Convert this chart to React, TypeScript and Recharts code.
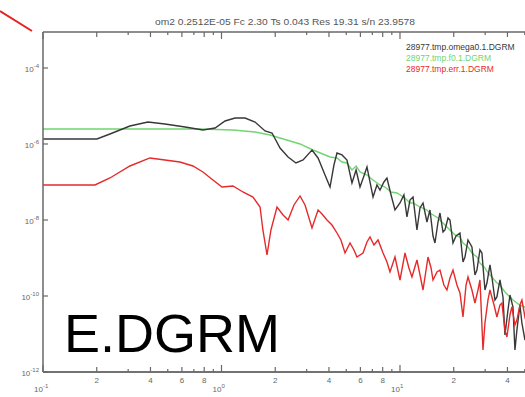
import { LineChart, Line, XAxis, YAxis, Legend, ReferenceLine } from 'recharts';

// log10(frequency) and log10(power) pairs
const omegaLogF = [
  -1.0, -0.698, -0.625, -0.513, -0.412, -0.317, -0.204, -0.104, -0.036, 0.02, 0.076, 0.132, 0.188, 0.244,
  0.283, 0.328, 0.373, 0.417, 0.457, 0.507, 0.541, 0.58, 0.608, 0.63, 0.647, 0.675, 0.703, 0.731, 0.754,
  0.776, 0.798, 0.815, 0.849, 0.871, 0.888, 0.91, 0.927, 0.95, 0.972, 1.0, 1.022, 1.039, 1.056, 1.073,
  1.095, 1.112, 1.129, 1.151, 1.168, 1.185, 1.196, 1.213, 1.224, 1.241, 1.252, 1.269, 1.28, 1.297, 1.314,
  1.336, 1.353, 1.364, 1.381, 1.403, 1.42, 1.431, 1.448, 1.459, 1.476, 1.487, 1.504, 1.515, 1.532, 1.543,
  1.56, 1.577, 1.588, 1.605, 1.616, 1.633, 1.644, 1.655, 1.672, 1.683, 1.7, 1.717,
];
const omegaLogP = [
  -5.868, -5.868, -5.737, -5.526, -5.421, -5.474, -5.553, -5.632, -5.579, -5.395, -5.316, -5.316, -5.421, -5.658,
  -5.711, -6.105, -6.342, -6.5, -6.421, -6.158, -6.368, -6.816, -7.132, -6.553, -6.237, -6.289, -6.421, -7.026, -6.684,
  -7.132, -6.842, -6.605, -7.395, -7.079, -7.211, -7.0, -6.895, -7.342, -7.737, -7.553, -7.342, -7.921, -7.474, -7.395,
  -8.263, -7.684, -7.553, -8.053, -7.737, -8.421, -8.605, -8.053, -7.816, -8.316, -8.263, -7.947, -8.0, -8.605, -8.421,
  -8.342, -9.105, -8.974, -8.526, -8.711, -9.447, -9.316, -8.789, -8.868, -9.842, -9.658, -9.184, -9.5, -10.105, -10.026,
  -9.579, -10.026, -11.026, -10.368, -9.974, -10.289, -11.421, -10.895, -10.237, -10.711, -11.158, -10.579,
];

const fitLogF = [
  -1.0, -0.569, -0.12, 0.064, 0.188, 0.272, 0.328, 0.44, 0.513, 0.608, 0.647, 0.675, 0.703, 0.731, 0.754,
  0.776, 0.815, 0.849, 0.888, 0.916, 0.95, 0.983, 1.028, 1.056, 1.073, 1.112, 1.151, 1.168, 1.213, 1.224,
  1.263, 1.308, 1.336, 1.353, 1.381, 1.403, 1.431, 1.448, 1.476, 1.493, 1.515, 1.543, 1.56, 1.588, 1.616,
  1.633, 1.655, 1.672, 1.7, 1.717,
];
const fitLogP = [
  -5.605, -5.605, -5.605, -5.632, -5.684, -5.763, -5.842, -6.0, -6.158, -6.342, -6.368, -6.474, -6.5, -6.684, -6.579,
  -6.737, -6.816, -6.947, -7.079, -7.132, -7.263, -7.289, -7.421, -7.553, -7.553, -7.658, -7.737, -7.816, -7.947, -8.0,
  -8.184, -8.395, -8.447, -8.605, -8.711, -8.868, -8.974, -9.132, -9.263, -9.395, -9.5, -9.658, -9.711, -9.895, -10.026,
  -10.105, -10.184, -10.237, -10.289, -10.421,
];

const errLogF = [
  -1.0, -0.709, -0.625, -0.513, -0.401, -0.317, -0.233, -0.16, -0.104, -0.048, 0.003, 0.064, 0.12, 0.176, 0.216,
  0.232, 0.255, 0.277, 0.311, 0.345, 0.373, 0.406, 0.44, 0.468, 0.507, 0.541, 0.563, 0.591, 0.619, 0.647,
  0.669, 0.692, 0.72, 0.742, 0.759, 0.793, 0.815, 0.832, 0.854, 0.877, 0.905, 0.927, 0.944, 0.972, 1.0,
  1.028, 1.05, 1.067, 1.095, 1.112, 1.129, 1.157, 1.174, 1.185, 1.207, 1.224, 1.246, 1.263, 1.28, 1.297,
  1.319, 1.336, 1.353, 1.37, 1.381, 1.403, 1.42, 1.437, 1.448, 1.465, 1.476, 1.493, 1.504, 1.527, 1.543,
  1.56, 1.571, 1.588, 1.599, 1.616, 1.627, 1.644, 1.655, 1.672, 1.683, 1.7, 1.717,
];
const errLogP = [
  -7.079, -7.079, -6.895, -6.579, -6.368, -6.421, -6.474, -6.579, -6.737, -6.947, -7.132, -7.105, -7.263, -7.395, -7.658,
  -8.263, -8.921, -8.263, -7.658, -7.868, -8.0, -7.605, -7.368, -7.605, -8.211, -7.737, -7.842, -8.0, -8.132, -8.342,
  -8.526, -8.868, -8.605, -8.789, -8.974, -8.868, -8.579, -8.447, -8.658, -8.526, -8.868, -9.105, -9.368, -8.974, -9.579,
  -8.868, -9.263, -9.5, -9.053, -9.447, -9.842, -8.974, -9.263, -9.579, -9.368, -9.316, -9.711, -9.842, -9.526, -9.316,
  -9.711, -9.921, -10.553, -9.711, -9.5, -9.842, -10.184, -9.842, -9.579, -11.421, -10.711, -10.105, -9.842, -10.237, -10.553,
  -10.237, -10.184, -10.895, -11.079, -10.5, -10.289, -10.763, -10.632, -10.237, -10.105, -10.553, -10.368,
];

const xTicks = [
  0.1, 0.2, 0.3, 0.4, 0.5, 0.6, 0.7, 0.8, 0.9, 1, 2, 3, 4, 5, 6, 7, 8, 9, 10, 20, 30, 40, 50,
];
const yTicks = [1e-12, 1e-10, 1e-8, 1e-6, 1e-4];

const TITLE = 'om2 0.2512E-05 Fc 2.30 Ts 0.043 Res 19.31 s/n 23.9578';
const BIG_LABEL = 'E.DGRM';

const series = [
  { key: 'omega', name: '28977.tmp.omega0.1.DGRM', color: '#383838', f: omegaLogF, p: omegaLogP },
  { key: 'fit', name: '28977.tmp.f0.1.DGRM', color: '#72d472', f: fitLogF, p: fitLogP },
  { key: 'err', name: '28977.tmp.err.1.DGRM', color: '#e62a2a', f: errLogF, p: errLogP },
];

const toRows = (lf: number[], lp: number[]) => lf.map((v, i) => ({ f: 10 ** v, p: 10 ** lp[i] }));

const X_DOMAIN = [0.1, 53.5];
const Y_DOMAIN = [1e-12, 8.85e-4];
const AXIS = 'dimgray';
const LABEL = '#666';
const AXIS_LINE = { stroke: AXIS, strokeWidth: 1.5 };

const CHART_W = 560;
const CHART_H = 397;
const MARGIN = { top: 32, right: 30, left: 0, bottom: 0 };
const X_AXIS_H = 25;
const PLOT_H = CHART_H - MARGIN.top - MARGIN.bottom - X_AXIS_H;

function decade(v: number) {
  return Math.floor(Math.log10(v) + 1e-9);
}

function BottomTick({ x, y, payload }: any) {
  const v = payload.value;
  const e = decade(v);
  const m = Math.round(v / 10 ** e);
  const major = m === 1;
  const labeled = major || m % 2 === 0;
  const len = major ? 7 : labeled ? 5 : 3;
  const top = y - PLOT_H;
  return (
    <g>
      <line x1={x} x2={x} y1={y} y2={y - len} stroke={AXIS} strokeWidth={1.2} />
      <line x1={x} x2={x} y1={top} y2={top + len} stroke={AXIS} strokeWidth={1.2} />
      {major ? (
        <text x={x - 9} y={y + 20} fontSize={8} fill={LABEL}>
          10<tspan dy={-4} fontSize={6}>{e}</tspan>
        </text>
      ) : labeled ? (
        <text x={x} y={y + 11} textAnchor="middle" fontSize={8} fill={LABEL}>{m}</text>
      ) : null}
    </g>
  );
}

function LeftTick({ x, y, payload }: any) {
  const e = Math.round(Math.log10(payload.value));
  return (
    <g>
      <line x1={x} x2={x + 5} y1={y} y2={y} stroke={AXIS} strokeWidth={1.2} />
      <text x={x - 4} y={y + 4} textAnchor="end" fontSize={8} fill={LABEL}>
        10<tspan dy={-4} fontSize={6}>{e}</tspan>
      </text>
    </g>
  );
}

function LegendBox() {
  return (
    <div style={{ fontSize: 8.5, lineHeight: '11px', whiteSpace: 'nowrap' }}>
      {series.map((s) => (
        <div key={s.key} style={{ color: s.color }}>{s.name}</div>
      ))}
    </div>
  );
}

export default function App() {
  const drawOrder = [series[1], series[0], series[2]];
  return (
    <div style={{ position: 'absolute', left: 0, top: 0, width: 525, height: 397, overflow: 'hidden' }}>
      <LineChart
        width={CHART_W}
        height={CHART_H}
        margin={MARGIN}
        style={{ fontFamily: '"Liberation Sans", Arial, sans-serif' }}
      >
        <XAxis
          xAxisId="bottom"
          dataKey="f"
          type="number"
          scale="log"
          domain={X_DOMAIN}
          allowDataOverflow
          ticks={xTicks}
          interval={0}
          height={X_AXIS_H}
          tickSize={0}
          tickMargin={0}
          axisLine={AXIS_LINE}
          tick={<BottomTick />}
        />
        <YAxis
          dataKey="p"
          type="number"
          scale="log"
          domain={Y_DOMAIN}
          allowDataOverflow
          ticks={yTicks}
          interval={0}
          width={43}
          tickSize={0}
          tickMargin={0}
          axisLine={AXIS_LINE}
          tick={<LeftTick />}
        />
        <ReferenceLine xAxisId="bottom" y={Y_DOMAIN[1]} ifOverflow="visible" stroke={AXIS} strokeWidth={1.5} />
        <ReferenceLine xAxisId="bottom" y={Y_DOMAIN[0]} ifOverflow="visible" stroke={AXIS} strokeWidth={1.5} />
        <Legend
          layout="vertical"
          align="center"
          verticalAlign="middle"
          content={<LegendBox />}
          wrapperStyle={{ top: 42, left: 406, width: 130 }}
        />
        {drawOrder.map((s) => (
          <Line
            key={s.key}
            xAxisId="bottom"
            data={toRows(s.f, s.p)}
            dataKey="p"
            name={s.name}
            stroke={s.color}
            strokeWidth={1.4}
            dot={false}
            isAnimationActive={false}
          />
        ))}
      </LineChart>
      <svg
        width={525}
        height={397}
        style={{ position: 'absolute', left: 0, top: 0, pointerEvents: 'none', fontFamily: '"Liberation Sans", Arial, sans-serif' }}
      >
        <text x={285} y={25} textAnchor="middle" fontSize={9} fill="#555" textLength={260} lengthAdjust="spacingAndGlyphs">
          {TITLE}
        </text>
        <line x1={0} y1={11} x2={32} y2={31} stroke="#e8201e" strokeWidth={2} />
        <text x={64} y={352} fontSize={54} fill="#000">{BIG_LABEL}</text>
      </svg>
    </div>
  );
}
